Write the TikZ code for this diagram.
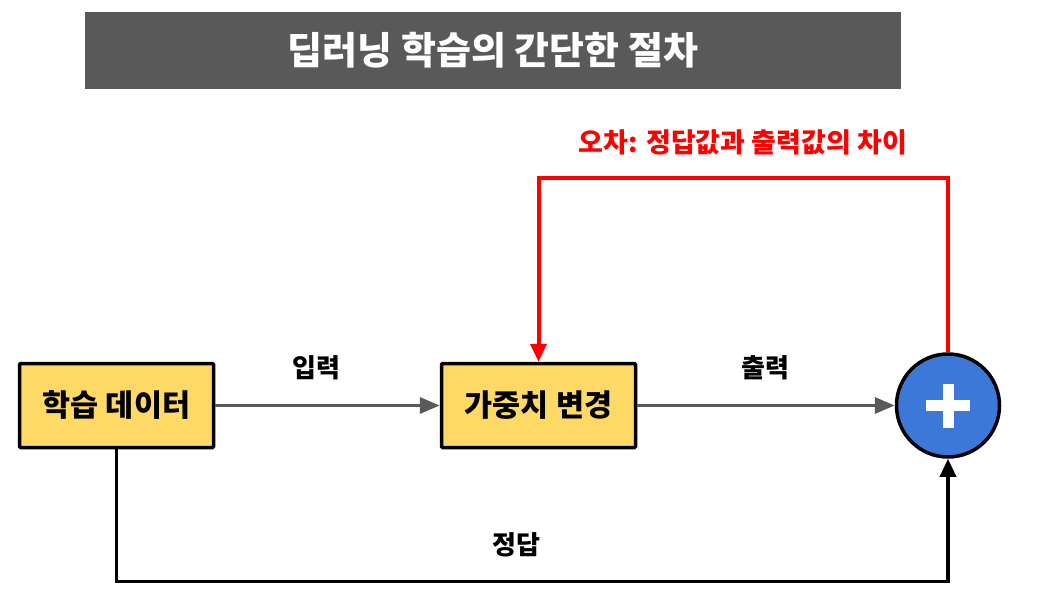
\documentclass[tikz,border=0pt]{standalone}
\usepackage{fontspec}
\setmainfont{Noto Sans CJK KR}
\usetikzlibrary{arrows.meta}
\definecolor{dlgray}{HTML}{595959}
\definecolor{dlyellow}{HTML}{FFD966}
\definecolor{dlblue}{HTML}{3C78D8}
\definecolor{dlred}{HTML}{FF0000}

\begin{document}
\begin{tikzpicture}[x=1pt, y=-1pt,
  titlebar/.style={fill=dlgray, minimum width=816pt, minimum height=77pt, inner sep=0pt, text=white, font=\fontsize{38}{44}\selectfont\bfseries},
  stepbox/.style={draw=black, line width=3.5pt, fill=dlyellow, minimum width=194pt, minimum height=84pt, inner sep=0pt, rounded corners=1pt, font=\fontsize{30.5}{36}\selectfont\bfseries},
  sumnode/.style={circle, draw=black, line width=3.5pt, fill=dlblue, minimum size=103pt, inner sep=0pt},
  edgelabel/.style={font=\fontsize{26}{30}\selectfont\bfseries},
  flow/.style={draw=dlgray, line width=3.5pt, -{Triangle[length=20pt, width=16pt]}},
  truth/.style={draw=black, line width=3.5pt, -{Triangle[length=18pt, width=16pt]}},
  error/.style={draw=dlred, line width=4pt, -{Triangle[length=18pt, width=16pt]}}]
  \useasboundingbox (0,0) rectangle (1039,596);
  \node[titlebar] (title) at (493,50.5) {딥러닝 학습의 간단한 절차};
  \node[stepbox] (data) at (116.5,405.5) {학습 데이터};
  \node[stepbox] (weight) at (538.5,405.5) {가중치 변경};
  \node[sumnode] (sum) at (948,405.5) {};
  % plus sign
  \fill[white] ([xshift=-22pt, yshift=-5.5pt]sum.center) rectangle ([xshift=22pt, yshift=5.5pt]sum.center);
  \fill[white] ([xshift=-5.5pt, yshift=-22pt]sum.center) rectangle ([xshift=5.5pt, yshift=22pt]sum.center);
  % connectors
  \draw[flow] (data) -- (weight);
  \draw[flow] (weight) -- (sum);
  \draw[truth] (data.south) -- ++(0,132) -| (sum.south);
  \draw[error] (sum.north) -- ++(0,-174) -| (weight.north);
  % labels
  \node[edgelabel] (inlabel) at (316,368) {입력};
  \node[edgelabel] (outlabel) at (765,368) {출력};
  \node[edgelabel] (truthlabel) at (516,545) {정답};
  \node[edgelabel, font=\fontsize{27}{32}\selectfont\bfseries, text=dlred] (errorlabel) at (743,142) {오차: 정답값과 출력값의 차이};
\end{tikzpicture}
\end{document}
